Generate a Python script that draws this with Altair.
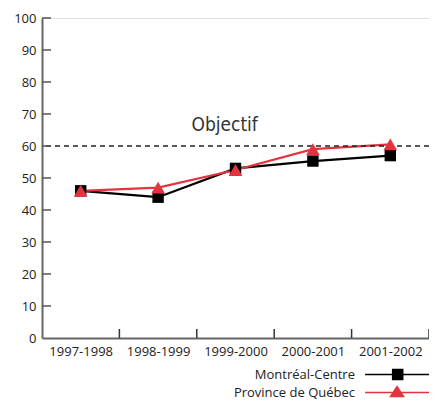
import altair as alt
import pandas as pd

years = ["1997-1998", "1998-1999", "1999-2000", "2000-2001", "2001-2002"]
montreal = [46, 44, 53, 55.3, 57]
quebec = [46, 47, 52.5, 59, 60.5]
series_names = ["Montréal-Centre", "Province de Québec"]
series_colors = ["#000000", "#e2343f"]
objectif = 60
objectif_label = "Objectif"
y_ticks = [0, 10, 20, 30, 40, 50, 60, 70, 80, 90, 100]
x_bounds = [0.5, 1.5, 2.5, 3.5, 4.5]

rows = []
for i, yr in enumerate(years):
    rows.append({"idx": i, "year": yr, "value": montreal[i], "series": series_names[0]})
    rows.append({"idx": i, "year": yr, "value": quebec[i], "series": series_names[1]})
df = pd.DataFrame(rows)

FONT = "Open Sans"
label_expr = "[" + ",".join("'%s'" % y for y in years) + "][datum.value]"

xscale = alt.Scale(domain=[-0.5, 4.5], nice=False, zero=False)
yscale = alt.Scale(domain=[0, 100], nice=False)

x_axis = alt.Axis(values=[0, 1, 2, 3, 4], labelExpr=label_expr, ticks=False,
                  grid=False, domainColor="#666666", domainWidth=2,
                  labelFont=FONT, labelFontSize=13, labelColor="#222222",
                  labelPadding=7, labelOverlap=False)
y_axis = alt.Axis(values=y_ticks, ticks=False, grid=False,
                  domainColor="#666666", domainWidth=2,
                  labelFont=FONT, labelFontSize=13, labelColor="#222222",
                  labelPadding=6, labelOverlap=False)
x_enc = alt.X("idx:Q", scale=xscale, title=None, axis=x_axis)
y_enc = alt.Y("value:Q", scale=yscale, title=None, axis=y_axis)

# legend symbols: line segment with marker, drawn to the right of the (right-aligned) label
sq_path = "M3.2,0H14.9M8.2,-0.9H10.05V0.9H8.2Z"
tri_path = "M3.2,0H14.9M9,-1.1L10.2,0.75H7.8Z"

legend = alt.Legend(
    title=None, orient="none", legendX=299, legendY=350, direction="vertical",
    labelAlign="right", labelOffset=1, labelFont=FONT, labelFontSize=13,
    labelColor="#222222", symbolSize=121, symbolStrokeWidth=1.4, rowPadding=0,
    padding=0, symbolOpacity=1,
)

color_scale = alt.Scale(domain=series_names, range=series_colors)
shape_scale = alt.Scale(domain=series_names, range=[sq_path, tri_path])

lines = alt.Chart(df).mark_line(strokeWidth=2.2).encode(
    x=x_enc, y=y_enc,
    stroke=alt.Stroke("series:N", scale=color_scale, legend=legend),
    order=alt.Order("idx:Q"),
)

legend_layer = alt.Chart(df).transform_filter("false").mark_point(filled=True).encode(
    x=x_enc, y=y_enc,
    shape=alt.Shape("series:N", scale=shape_scale, legend=legend),
    fill=alt.Fill("series:N", scale=color_scale, legend=legend),
    stroke=alt.Stroke("series:N", scale=color_scale, legend=legend),
)

pts_m = alt.Chart(df).transform_filter(alt.datum.series == series_names[0]).mark_point(
    shape="square", filled=True, size=130, color=series_colors[0], opacity=1
).encode(x=x_enc, y=y_enc)

pts_q = alt.Chart(df).transform_filter(alt.datum.series == series_names[1]).mark_point(
    shape="triangle-up", filled=True, size=190, color=series_colors[1], opacity=1
).encode(x=x_enc, y=y_enc)

obj_df = pd.DataFrame({"value": [objectif]})
obj_rule = alt.Chart(obj_df).mark_rule(color="#222222", strokeDash=[5, 4], strokeWidth=1.5).encode(
    y=y_enc
)
obj_text = alt.Chart(pd.DataFrame({"value": [64.7], "idx": [1.86], "t": [objectif_label]})).mark_text(
    font="DejaVu Sans Condensed", fontSize=19, color="#333333", align="center",
    baseline="alphabetic"
).encode(x=x_enc, y=y_enc, text="t:N")

yt = alt.Chart(pd.DataFrame({"value": y_ticks[1:]})).mark_rule(color="#555555", strokeWidth=1.5).encode(
    y=y_enc, x=alt.value(0), x2=alt.value(9)
)
xt = alt.Chart(pd.DataFrame({"idx": x_bounds})).mark_rule(color="#333333", strokeWidth=1.5).encode(
    x=x_enc, y=alt.value(311), y2=alt.value(320)
)

chart = alt.layer(lines, obj_rule, obj_text, yt, xt, pts_m, pts_q, legend_layer).properties(
    width=387, height=320,
    autosize=alt.AutoSizeParams(type="none"),
    padding={"left": 34, "top": 10, "right": 0, "bottom": 64},
).configure_view(stroke=None).configure(background="white")

chart.save("out.html", embed_options={"renderer": "svg", "actions": False})
